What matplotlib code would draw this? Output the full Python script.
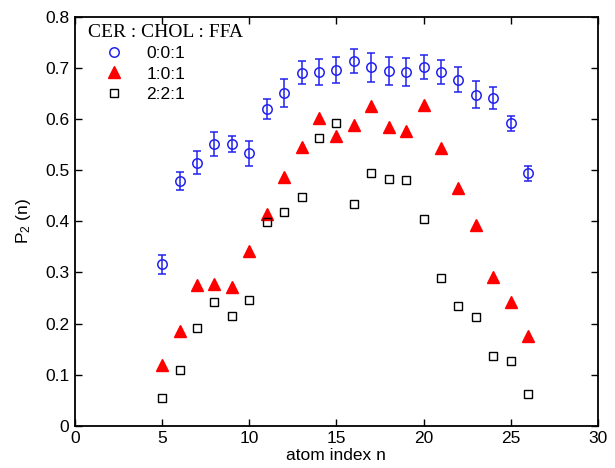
#! /usr/bin/env python3
# coding: utf-8

import numpy as np
import matplotlib
matplotlib.use("Agg")
import matplotlib.pyplot as plt
from matplotlib.ticker import FormatStrFormatter
from matplotlib.lines import Line2D

# atom index n
atome = np.arange(5, 27)

# P2(n) pour CER:CHOL:FFA = 0:0:1 (avec barres d'erreur)
p2_001 = [0.316, 0.479, 0.515, 0.551, 0.551, 0.533, 0.620, 0.651, 0.691, 0.692, 0.696,
          0.714, 0.701, 0.694, 0.692, 0.702, 0.692, 0.677, 0.648, 0.641, 0.592, 0.494]
err_001 = [0.019, 0.017, 0.022, 0.024, 0.016, 0.025, 0.020, 0.027, 0.023, 0.025, 0.025,
           0.024, 0.028, 0.028, 0.027, 0.024, 0.024, 0.024, 0.026, 0.022, 0.015, 0.015]

# 1:0:1
p2_101 = [0.119, 0.186, 0.275, 0.277, 0.272, 0.342, 0.415, 0.486, 0.546, 0.602, 0.566,
          0.588, 0.626, 0.585, 0.577, 0.628, 0.543, 0.466, 0.393, 0.291, 0.243, 0.175]

# 2:2:1
p2_221 = [0.055, 0.109, 0.192, 0.243, 0.215, 0.247, 0.399, 0.419, 0.447, 0.564, 0.592,
          0.434, 0.494, 0.483, 0.481, 0.405, 0.289, 0.235, 0.213, 0.137, 0.127, 0.063]

labels = ["0:0:1", "1:0:1", "2:2:1"]

plt.rcParams['font.family'] = ['Liberation Sans', 'DejaVu Sans']
plt.rcParams['mathtext.default'] = 'regular'

bleu = '#2222ee'
style_001 = dict(marker='o', mfc='none', mec=bleu, ms=6.8, mew=1.1, ls='none')
style_101 = dict(marker='^', color='red', ms=8, ls='none')
style_221 = dict(marker='s', mfc='none', mec='black', ms=5.3, mew=1.0, ls='none')

fig = plt.figure(figsize=(6.15, 4.68), dpi=100)
ax = fig.add_axes([0.122, 0.090, 0.850, 0.874])

ax.errorbar(atome, p2_001, yerr=err_001, ecolor=bleu, elinewidth=1.1,
            capsize=2.7, capthick=1.1, **style_001)
ax.plot(atome, p2_101, **style_101)
ax.plot(atome, p2_221, **style_221)

ax.set_xlim(0, 30)
ax.set_ylim(0, 0.8)
ax.set_xticks(np.arange(0, 31, 5))
ax.set_yticks(np.arange(0, 0.81, 0.1))
ax.yaxis.set_major_formatter(FormatStrFormatter('%g'))
ax.tick_params(direction='in', length=5, width=1, top=True, right=True, labelsize=12.5, pad=4)
for sp in ax.spines.values():
    sp.set_linewidth(1.3)

ax.set_xlabel('atom index n', fontsize=12.5, labelpad=1)
ax.set_ylabel(r'P$_2$ (n)', fontsize=12.5, labelpad=9)

# légende : marqueurs seuls, dans l'ordre
poignees = [Line2D([], [], **style_001), Line2D([], [], **style_101), Line2D([], [], **style_221)]
leg = ax.legend(poignees, labels, loc='upper left', bbox_to_anchor=(0.0115, 1.0),
                frameon=False, title='CER : CHOL : FFA', fontsize=12.5,
                handletextpad=0.35, borderaxespad=0, labelspacing=0.3, handlelength=3.0)
leg.get_title().set_fontfamily('Liberation Serif')
leg.get_title().set_fontsize(14)
leg._legend_box.align = 'left'

plt.savefig('out.png', dpi=100)
